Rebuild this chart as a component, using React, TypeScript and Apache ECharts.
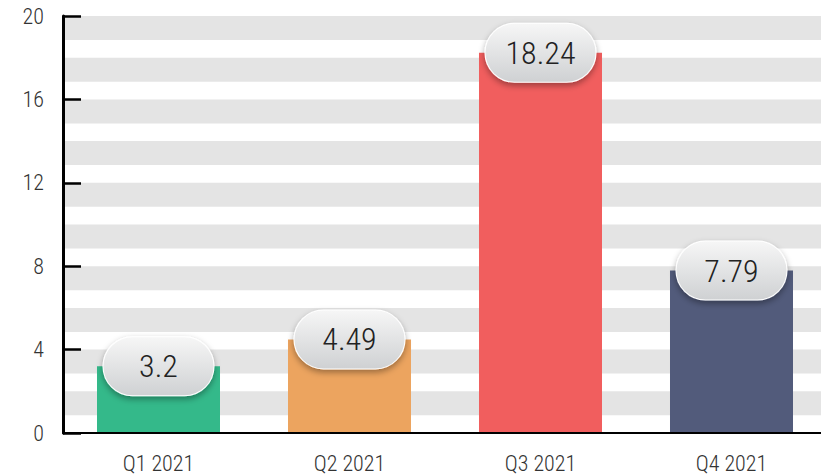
import React, { useEffect, useRef } from "react";
import * as echarts from "echarts";

const categories = ["Q1 2021", "Q2 2021", "Q3 2021", "Q4 2021"];
const values = [3.2, 4.49, 18.24, 7.79];
const barColors = ["#34b98a", "#eca45f", "#f15e5e", "#525b7b"];
const yTicks = [0, 4, 8, 12, 16, 20];

const FONT = "'Roboto Condensed', 'DejaVu Sans Condensed', sans-serif";

export default function App() {
  const ref = useRef<HTMLDivElement>(null);
  useEffect(() => {
    if (!ref.current) return;
    const chart = echarts.init(ref.current, null, { renderer: "svg" });
    const yMax = yTicks[yTicks.length - 1];
    const bands: any[] = [];
    for (let v = 2; v <= yMax; v += 2) {
      bands.push([{ yAxis: v }, { yAxis: v - 1.15 }]);
    }
    chart.setOption({
      animation: false,
      grid: { left: 63, top: 16, bottom: 43, right: 9 },
      xAxis: {
        type: "category",
        data: categories,
        z: 5,
        axisLine: { lineStyle: { color: "#000", width: 2 } },
        axisTick: { inside: true, length: 10, lineStyle: { color: "#000", width: 2 } },
        axisLabel: { color: "#333", fontSize: 22, fontWeight: 300, fontFamily: FONT, margin: 19 },
      },
      yAxis: {
        type: "value",
        min: yTicks[0],
        max: yMax,
        interval: 4,
        z: 5,
        axisLine: { show: true, lineStyle: { color: "#000", width: 3 } },
        axisTick: { show: true, inside: true, length: 18, lineStyle: { color: "#000", width: 2.5 } },
        splitLine: { show: false },
        axisLabel: {
          color: "#333",
          fontSize: 22,
          fontWeight: 300,
          fontFamily: FONT,
          margin: 19,
          padding: [10, 0, 0, 0],
        },
      },
      series: [
        {
          type: "bar",
          barWidth: "64.4%",
          data: values.map((v, i) => ({ value: v, itemStyle: { color: barColors[i] } })),
          label: {
            show: true,
            position: ["50%", 0],
            align: "center",
            verticalAlign: "middle",
            width: 110,
            height: 58,
            lineHeight: 58,
            borderRadius: 29,
            fontSize: 32,
            fontWeight: 300,
            fontFamily: FONT,
            color: "#222",
            backgroundColor: new echarts.graphic.LinearGradient(0, 0, 0, 1, [
              { offset: 0, color: "#f6f6f6" },
              { offset: 1, color: "#cfd1d3" },
            ]),
            borderColor: "#ffffff",
            borderWidth: 1,
            shadowColor: "rgba(0,0,0,0.35)",
            shadowBlur: 6,
            shadowOffsetY: 3,
          },
          markArea: {
            silent: true,
            itemStyle: { color: "#e4e4e4" },
            data: bands,
          },
        },
      ],
    });
    return () => chart.dispose();
  }, []);
  return (
    <div style={{ position: "absolute", left: 0, top: 0, width: 821, height: 476, overflow: "hidden" }}>
      <div ref={ref} style={{ width: 836, height: 476 }} />
    </div>
  );
}
